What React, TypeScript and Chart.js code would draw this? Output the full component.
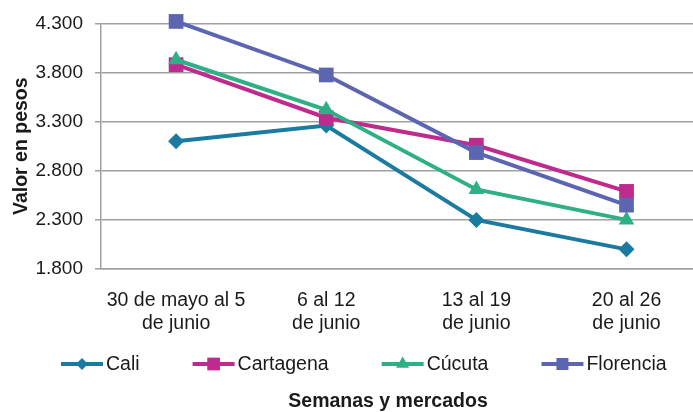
import React, { useEffect, useRef } from "react";
import { Chart, registerables } from "chart.js";

Chart.register(...registerables);

const categories: string[][] = [
  ["30 de mayo al 5", "de junio"],
  ["6 al 12", "de junio"],
  ["13 al 19", "de junio"],
  ["20 al 26", "de junio"],
];
const seriesNames = ["Cali", "Cartagena", "Cúcuta", "Florencia"];
const cali = [3100, 3260, 2300, 2000];
const cartagena = [3880, 3340, 3060, 2590];
const cucuta = [3930, 3420, 2610, 2300];
const florencia = [4320, 3775, 2985, 2450];
const yTicks = [1800, 2300, 2800, 3300, 3800, 4300];
const yTitle = "Valor en pesos";
const xTitle = "Semanas y mercados";

const colors = ["#1A7AA0", "#BF2A8E", "#2EAF85", "#5C66B0"];
const shapes = ["rectRot", "rect", "triangle", "rect"];
const radii = [8, 10.4, 9, 10.4];
const legendRadii = [6, 9, 7.5, 8.5];

const FONT = "'Liberation Sans', Arial, sans-serif";

function fmt(v: number): string {
  const s = Math.round(v).toString();
  return s.replace(/\B(?=(\d{3})+(?!\d))/g, ".");
}

function drawMarker(ctx: CanvasRenderingContext2D, shape: string, r: number, x: number, y: number) {
  ctx.beginPath();
  if (shape === "rect") {
    const s = Math.SQRT1_2 * r;
    ctx.rect(x - s, y - s, 2 * s, 2 * s);
  } else if (shape === "rectRot") {
    ctx.moveTo(x - r, y);
    ctx.lineTo(x, y - r);
    ctx.lineTo(x + r, y);
    ctx.lineTo(x, y + r);
    ctx.closePath();
  } else {
    let rad = 0;
    ctx.moveTo(x + Math.sin(rad) * r, y - Math.cos(rad) * r);
    rad += (2 * Math.PI) / 3;
    ctx.lineTo(x + Math.sin(rad) * r, y - Math.cos(rad) * r);
    rad += (2 * Math.PI) / 3;
    ctx.lineTo(x + Math.sin(rad) * r, y - Math.cos(rad) * r);
    ctx.closePath();
  }
  ctx.fill();
}

const bottomPlugin = {
  id: "bottomLegendTitle",
  afterDraw(chart: any) {
    const ctx = chart.ctx as CanvasRenderingContext2D;
    ctx.save();
    const fontSize = 19.5;
    ctx.font = `${fontSize}px ${FONT}`;
    ctx.textBaseline = "middle";
    ctx.textAlign = "left";
    const y = 364;
    let x = 61;
    const lineLen = 42;
    chart.data.datasets.forEach((_ds: any, i: number) => {
      ctx.strokeStyle = colors[i];
      ctx.lineWidth = 4;
      ctx.beginPath();
      ctx.moveTo(x, y);
      ctx.lineTo(x + lineLen, y);
      ctx.stroke();
      ctx.fillStyle = colors[i];
      drawMarker(ctx, shapes[i], legendRadii[i], x + lineLen / 2, y);
      ctx.fillStyle = "#1a1a1a";
      ctx.fillText(seriesNames[i], x + lineLen + 3, y + 1);
      const w = ctx.measureText(seriesNames[i]).width;
      x += lineLen + 3 + w + 53;
    });
    ctx.font = `bold ${fontSize}px ${FONT}`;
    ctx.textAlign = "center";
    ctx.fillStyle = "#1a1a1a";
    ctx.fillText(xTitle, 388, 402);
    ctx.restore();
  },
};

export default function App() {
  const ref = useRef<HTMLCanvasElement | null>(null);
  useEffect(() => {
    if (!ref.current) return;
    Chart.defaults.font.family = FONT;
    const series = [cali, cartagena, cucuta, florencia];
    const chart = new Chart(ref.current, {
      type: "line",
      data: {
        labels: categories,
        datasets: series.map((d, i) => ({
          label: seriesNames[i],
          data: d,
          borderColor: colors[i],
          backgroundColor: colors[i],
          borderWidth: 4,
          pointStyle: shapes[i] as any,
          pointRadius: radii[i],
          pointBorderWidth: 0,
          pointBackgroundColor: colors[i],
          tension: 0,
          clip: false as any,
          order: 4 - i,
        })),
      },
      options: {
        responsive: false,
        animation: false,
        layout: { padding: { left: 0, right: 10, top: 23, bottom: 73 } },
        plugins: {
          legend: { display: false },
          tooltip: { enabled: false },
        },
        scales: {
          x: {
            offset: true,
            grid: { display: false, drawTicks: false },
            border: { display: true, color: "#a0a0a0", width: 1.5 },
            ticks: {
              color: "#1a1a1a",
              font: { size: 19.5 },
              padding: 20,
              maxRotation: 0,
              autoSkip: false,
            },
            afterFit: (s: any) => {
              s.height = 70;
            },
          },
          y: {
            min: 1800,
            max: 4300,
            afterBuildTicks: (s: any) => {
              s.ticks = yTicks.map((v) => ({ value: v }));
            },
            grid: { color: "#a0a0a0", lineWidth: 1.5, tickLength: 6 },
            border: { display: true, color: "#a0a0a0", width: 1.5 },
            ticks: {
              color: "#1a1a1a",
              font: { size: 19 },
              padding: 12,
              callback: (v: any) => fmt(Number(v)),
            },
            title: {
              display: true,
              text: yTitle,
              color: "#1a1a1a",
              font: { size: 19.5, weight: "bold" },
              padding: { top: 10, bottom: 0 },
            },
            afterFit: (s: any) => {
              s.width = 101;
            },
          },
        },
      },
      plugins: [bottomPlugin],
    });
    return () => chart.destroy();
  }, []);
  return (
    <div
      style={{
        position: "fixed",
        left: 0,
        top: 0,
        width: 693,
        height: 412,
        overflow: "hidden",
        background: "#fff",
      }}
    >
      <canvas ref={ref} width={712} height={412} style={{ display: "block" }} />
    </div>
  );
}
